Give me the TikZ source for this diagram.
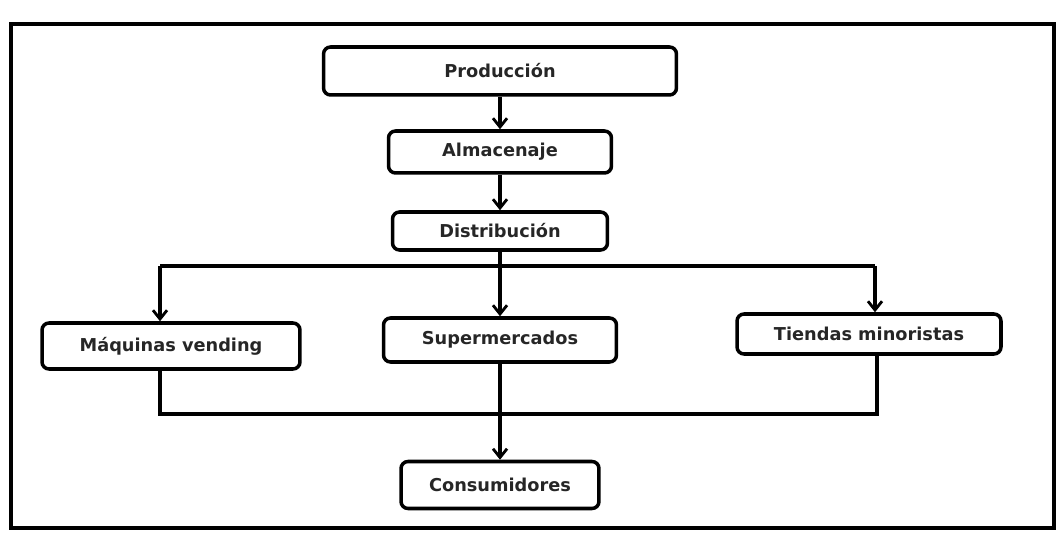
\documentclass[tikz,border=0pt]{standalone}
\usepackage{fontspec}
\setmainfont{DejaVu Sans}
\usetikzlibrary{arrows.meta}
\tikzset{
  box/.style={draw, line width=2pt, rounded corners=4pt, align=center,
    font=\fontsize{10.1}{12}\selectfont\bfseries, text=black!85},
  link/.style={line width=2pt},
  flecha/.style={link, -{Straight Barb[length=5pt,width=8pt,line width=1.6pt]}}
}
\begin{document}
\begin{tikzpicture}[x=0.02cm, y=-0.02cm]
            \useasboundingbox (0,0) rectangle (1060,536);
            \draw[line width=2.8pt] (11,24) rectangle (1054,528);
            \node[box, minimum width=7.06cm, minimum height=0.96cm] (prod) at (500,71) {Producción};
            \node[box, minimum width=4.46cm, minimum height=0.84cm] (alm) at (500,152) {Almacenaje};
            \node[box, minimum width=4.3cm, minimum height=0.76cm] (dist) at (500,231) {Distribución};
            \node[box, minimum width=5.16cm, minimum height=0.92cm] (maq) at (171,346) {Máquinas vending};
            \node[box, minimum width=4.66cm, minimum height=0.88cm] (super) at (500,340) {Supermercados};
            \node[box, minimum width=5.28cm, minimum height=0.8cm] (tien) at (869,334) {Tiendas minoristas};
            \node[box, minimum width=3.96cm, minimum height=0.94cm] (cons) at (500,485) {Consumidores};
            \coordinate (bl) at (160,266);
            \coordinate (br) at (875,266);
            \coordinate (cl) at (160,414);
            \coordinate (cr) at (877,414);
            \draw[flecha] (prod) -- (alm);
            \draw[flecha] (alm) -- (dist);
            \draw[flecha] (dist) -- (super);
            \draw[link] (bl) -- (br);
            \draw[flecha] (bl) -- (bl |- maq.north);
            \draw[flecha] (br) -- (br |- tien.north);
            \draw[link] (cl |- maq.south) -- (cl) -- (cr) -- (cr |- tien.south);
            \draw[flecha] (super) -- (cons);
        \end{tikzpicture}
\end{document}
